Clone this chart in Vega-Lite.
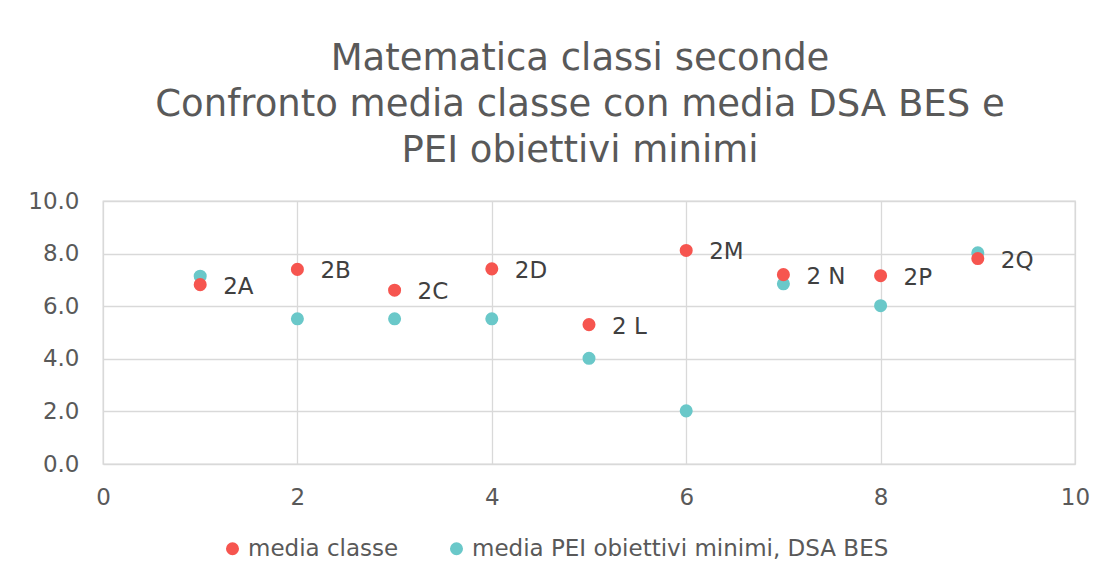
{
  "$schema": "https://vega.github.io/schema/vega-lite/v6.json",
  "autosize": "none",
  "width": 972,
  "height": 263,
  "padding": {"left": 103, "top": 201, "right": 40, "bottom": 114},
  "background": "white",
  "title": {
    "text": ["Matematica classi seconde", "Confronto media classe con media DSA BES e", "PEI obiettivi minimi"],
    "font": "DejaVu Sans",
    "fontSize": 37,
    "fontWeight": "normal",
    "color": "#595959",
    "lineHeight": 46,
    "anchor": "middle",
    "frame": "group",
    "dx": -9,
    "offset": 20
  },
  "config": {
    "view": {"stroke": "#d9d9d9", "strokeWidth": 1.3},
    "font": "DejaVu Sans",
    "axis": {
      "gridColor": "#d9d9d9",
      "gridWidth": 1.3,
      "domain": false,
      "ticks": false,
      "labelFont": "DejaVu Sans",
      "labelFontSize": 23,
      "labelColor": "#595959",
      "title": null
    },
    "legend": {
      "labelFont": "DejaVu Sans",
      "labelFontSize": 23,
      "labelColor": "#595959",
      "labelLimit": 0
    }
  },
  "data": {
    "values": [
      {"x": 1, "classe": "2A", "serie": "media classe", "valore": 6.82},
      {"x": 2, "classe": "2B", "serie": "media classe", "valore": 7.40},
      {"x": 3, "classe": "2C", "serie": "media classe", "valore": 6.61},
      {"x": 4, "classe": "2D", "serie": "media classe", "valore": 7.42},
      {"x": 5, "classe": "2 L", "serie": "media classe", "valore": 5.30},
      {"x": 6, "classe": "2M", "serie": "media classe", "valore": 8.12},
      {"x": 7, "classe": "2 N", "serie": "media classe", "valore": 7.20},
      {"x": 8, "classe": "2P", "serie": "media classe", "valore": 7.16},
      {"x": 9, "classe": "2Q", "serie": "media classe", "valore": 7.81},
      {"x": 1, "classe": "2A", "serie": "media PEI obiettivi minimi, DSA BES", "valore": 7.14},
      {"x": 2, "classe": "2B", "serie": "media PEI obiettivi minimi, DSA BES", "valore": 5.52},
      {"x": 3, "classe": "2C", "serie": "media PEI obiettivi minimi, DSA BES", "valore": 5.52},
      {"x": 4, "classe": "2D", "serie": "media PEI obiettivi minimi, DSA BES", "valore": 5.52},
      {"x": 5, "classe": "2 L", "serie": "media PEI obiettivi minimi, DSA BES", "valore": 4.02},
      {"x": 6, "classe": "2M", "serie": "media PEI obiettivi minimi, DSA BES", "valore": 2.02},
      {"x": 7, "classe": "2 N", "serie": "media PEI obiettivi minimi, DSA BES", "valore": 6.85},
      {"x": 8, "classe": "2P", "serie": "media PEI obiettivi minimi, DSA BES", "valore": 6.02},
      {"x": 9, "classe": "2Q", "serie": "media PEI obiettivi minimi, DSA BES", "valore": 8.03}
    ]
  },
  "encoding": {
    "x": {
      "field": "x",
      "type": "quantitative",
      "scale": {"domain": [0, 10], "nice": false, "zero": false},
      "axis": {"values": [0, 2, 4, 6, 8, 10], "labelPadding": 22, "labelFlush": false}
    },
    "y": {
      "field": "valore",
      "type": "quantitative",
      "scale": {"domain": [0, 10], "nice": false},
      "axis": {"values": [0, 2, 4, 6, 8, 10], "format": ".1f", "labelPadding": 24}
    }
  },
  "layer": [
    {
      "mark": {"type": "point", "filled": true, "shape": "circle", "size": 170, "opacity": 1},
      "encoding": {
        "color": {
          "field": "serie",
          "type": "nominal",
          "scale": {
            "domain": ["media classe", "media PEI obiettivi minimi, DSA BES"],
            "range": ["#f6554f", "#6ac8c9"]
          },
          "legend": {
            "title": null,
            "orient": "none",
            "direction": "horizontal",
            "legendX": 118,
            "legendY": 336,
            "symbolType": "circle",
            "symbolSize": 170,
            "symbolOpacity": 1,
            "labelOffset": 4,
            "columnPadding": 46
          }
        },
        "order": {"field": "serie", "sort": "ascending"}
      }
    },
    {
      "transform": [{"filter": "datum.serie === 'media classe'"}],
      "mark": {
        "type": "text",
        "align": "left",
        "baseline": "middle",
        "dx": 23,
        "dy": 2,
        "font": "DejaVu Sans",
        "fontSize": 23,
        "color": "#404040"
      },
      "encoding": {"text": {"field": "classe"}}
    }
  ]
}
